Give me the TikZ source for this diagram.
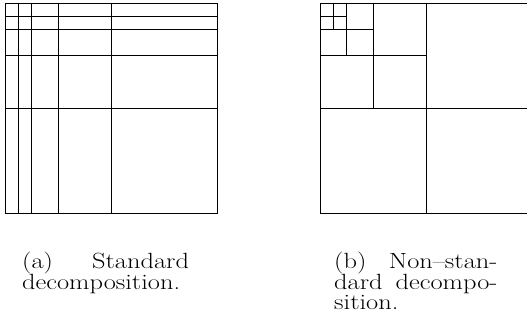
\documentclass[tikz,border=0pt]{standalone}
\usepackage{graphicx}
\tikzset{
  gridline/.style={black, line width=0.9pt},
  captext/.style={inner sep=0pt, anchor=base west},
}
\newcommand{\capfont}{\fontsize{22}{20}\selectfont}
\begin{document}
\begin{tikzpicture}[x=1pt,y=-1pt]
\useasboundingbox (0,0) rectangle (527,329);
% (a) standard decomposition
\draw[gridline] (5,3) rectangle (217,213);
\foreach \xx in {18.25,31.5,58,111} \draw[gridline] (\xx,3) -- (\xx,213);
\foreach \yy in {16.1,29.25,55.5,108} \draw[gridline] (5,\yy) -- (217,\yy);
% (b) non-standard decomposition
\draw[gridline] (320,3) rectangle (532,213);
\draw[gridline] (426,3) -- (426,213);
\draw[gridline] (320,108) -- (532,108);
\draw[gridline] (373,3) -- (373,108);
\draw[gridline] (320,55.5) -- (426,55.5);
\draw[gridline] (346.5,3) -- (346.5,55.5);
\draw[gridline] (320,29.25) -- (373,29.25);
\draw[gridline] (333.25,3) -- (333.25,29.25);
\draw[gridline] (320,16.1) -- (346.5,16.1);
% captions
\node[captext] (capa) at (22,268) {\scalebox{1.2}[1]{\parbox[t]{139pt}{\capfont (a) Standard\linebreak decomposition.}}};
\node[captext] (capb) at (334,268) {\scalebox{1.2}[1]{\parbox[t]{136pt}{\capfont (b) Non--stan-\linebreak dard decompo-\linebreak sition.}}};
\end{tikzpicture}
\end{document}
